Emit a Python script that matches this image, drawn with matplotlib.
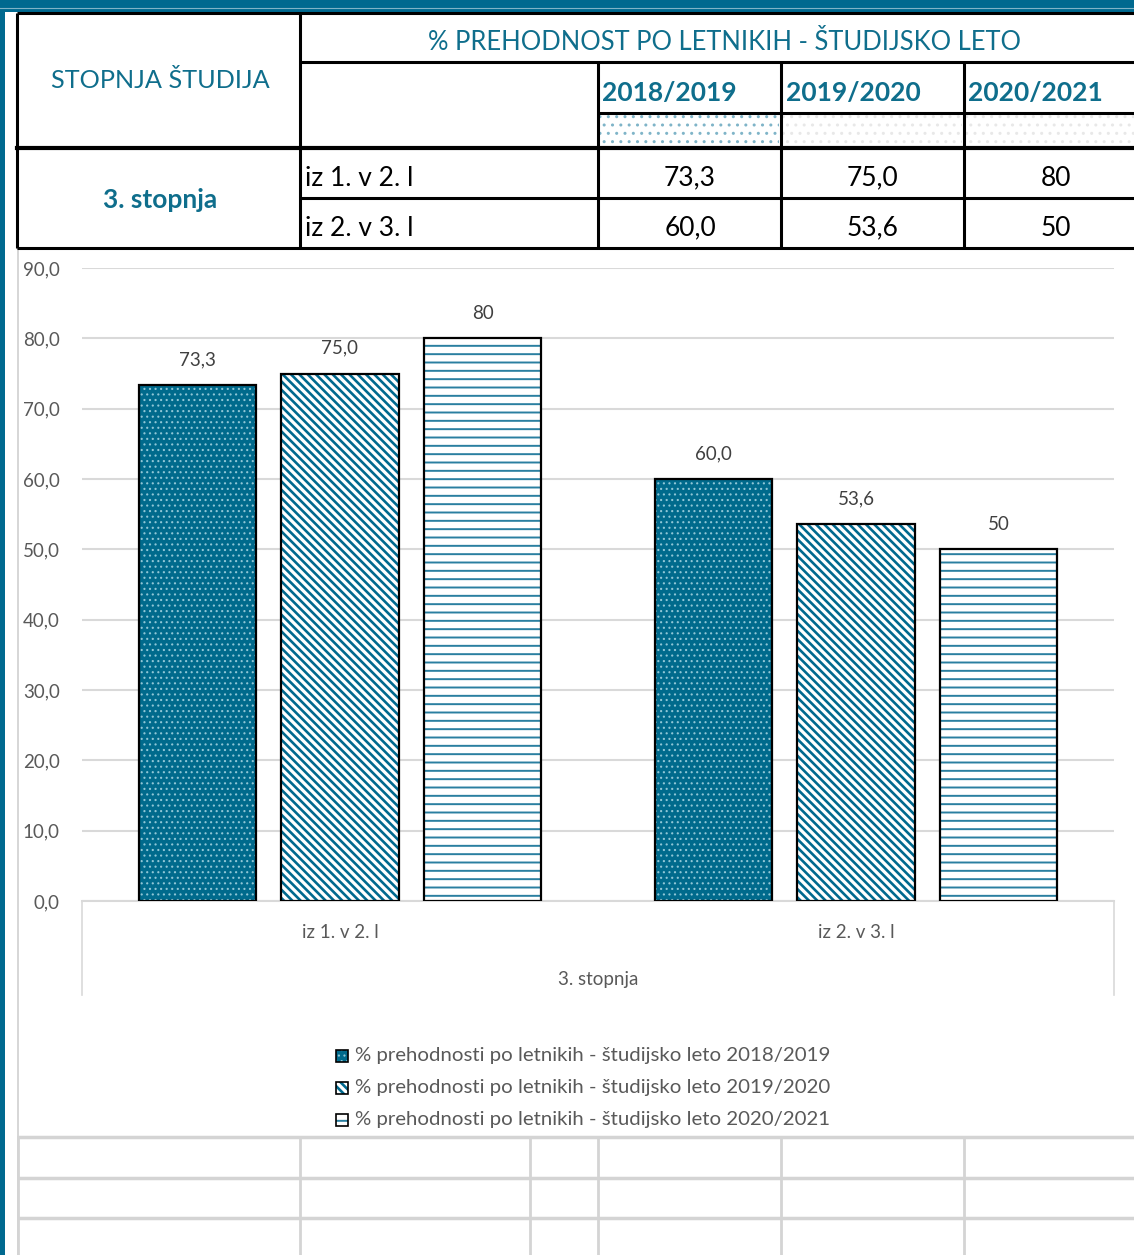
import matplotlib.pyplot as plt
from matplotlib.patches import Rectangle

plt.rcParams['font.family'] = ['Lato', 'DejaVu Sans']
plt.rcParams['hatch.linewidth'] = 1.6

# data
categories = ['iz 1. v 2. l', 'iz 2. v 3. l']
group_label = '3. stopnja'
years = ['2018/2019', '2019/2020', '2020/2021']
v2018 = [73.3, 60.0]
v2019 = [75.0, 53.6]
v2020 = [80, 50]
labels2018 = ['73,3', '60,0']
labels2019 = ['75,0', '53,6']
labels2020 = ['80', '50']
yticks = [0, 10, 20, 30, 40, 50, 60, 70, 80, 90]

TEAL = '#00698f'
TXT = '#0f6e8c'
GRAY = '#595959'

W, H = 1134, 1255
fig = plt.figure(figsize=(W / 100, H / 100), dpi=100)

# background "spreadsheet" layer in pixel coordinates
bg = fig.add_axes([0, 0, 1, 1])
bg.set_xlim(0, W)
bg.set_ylim(H, 0)
bg.axis('off')

# top band and left border
bg.add_patch(Rectangle((0, 0), W, 12, color=TEAL, lw=0))
bg.plot([0, W], [8, 8], color='#7fb3c6', lw=0.8)
bg.add_patch(Rectangle((0, 0), 5, H, color=TEAL, lw=0))
bg.plot([18, 18], [248, H], color='#d0d0d0', lw=1.2)

# table grid
blk = dict(color='black', lw=2.2, solid_capstyle='butt')
bg.plot([17, W], [13, 13], **blk)
bg.plot([300, W], [62, 62], **blk)
bg.plot([598, W], [113, 113], **blk)
bg.plot([17, W], [148, 148], color='black', lw=3)
bg.plot([300, W], [198, 198], **blk)
bg.plot([17, W], [248, 248], **blk)
bg.plot([17, 17], [13, 248], **blk)
bg.plot([300, 300], [13, 248], **blk)
for x in [598, 781, 964]:
    bg.plot([x, x], [62, 248], **blk)

# dotted cells under year headers
with plt.rc_context({'hatch.linewidth': 1.0}):
    bg.add_patch(Rectangle((600, 115), 179, 31, facecolor='white', edgecolor='#7fb4c8',
                           hatch='..', lw=0))
    for x0 in [783, 966]:
        bg.add_patch(Rectangle((x0, 115), 179, 31, facecolor='white', edgecolor='#e8e8e8',
                               hatch='..', lw=0))

bg.text(724, 42, '% PREHODNOST PO LETNIKIH - ŠTUDIJSKO LETO', color=TXT,
        fontsize=18.4, ha='center', va='center')
bg.text(160, 81, 'STOPNJA ŠTUDIJA', color=TXT, fontsize=18.2, ha='center', va='center')
for x, yr in zip([602, 786, 968], years):
    bg.text(x, 93, yr, color=TXT, fontsize=19, fontweight='bold', ha='left', va='center')
bg.text(160, 200, group_label, color=TXT, fontsize=19, fontweight='bold',
        ha='center', va='center')
for y, cat in zip([178, 228], categories):
    bg.text(305, y, cat, color='black', fontsize=19, ha='left', va='center')
for i, y in enumerate([178, 228]):
    for x, lab in zip([690, 873, 1056], [labels2018[i], labels2019[i], labels2020[i]]):
        bg.text(x, y, lab, color='black', fontsize=19, ha='center', va='center')

# white chart area
bg.add_patch(Rectangle((19, 250), W - 19, 885, color='white', lw=0, zorder=1))

# lower spreadsheet grid
lg = dict(color='#d4d4d4', lw=2.5, solid_capstyle='butt', zorder=2)
for y in [1137, 1178, 1218]:
    bg.plot([18, W], [y, y], **lg)
for x in [18, 300, 530, 598, 781, 964]:
    bg.plot([x, x], [1137, H], color='#d4d4d4', lw=2, zorder=2)

# category box under the axis
bg.plot([82, 82], [901, 995], color='#d9d9d9', lw=1.2, zorder=2)
bg.plot([1114, 1114], [901, 995], color='#d9d9d9', lw=1.2, zorder=2)
bg.plot([82, 1114], [901, 901], color='#d9d9d9', lw=1.5, zorder=2)
for x, cat in zip([340, 856], categories):
    bg.text(x, 932, cat, color=GRAY, fontsize=13.5, ha='center', va='center', zorder=3)
bg.text(598, 980, group_label, color=GRAY, fontsize=13.5, ha='center', va='center', zorder=3)

# chart
ax = fig.add_axes([82 / W, (H - 901) / H, (1114 - 82) / W, 633 / H])
ax.set_facecolor('none')
ax.set_xlim(-0.5, 1.5)
ax.set_ylim(0, 90)
for s in ax.spines.values():
    s.set_visible(False)
ax.set_xticks([])
ax.set_yticks(yticks)
ax.set_yticklabels([f'{t},0' for t in yticks], color=GRAY, fontsize=13.5)
ax.tick_params(axis='y', length=0, pad=16)
ax.grid(axis='y', color='#d9d9d9', lw=1.5)
ax.set_axisbelow(True)

pos = [0, 1]
off = 0.277
bw = 0.227
styles = [
    dict(facecolor='#006a8c', edgecolor='#8fc6d6', hatch='...'),
    dict(facecolor='white', edgecolor=TEAL, hatch='\\\\\\\\'),
    dict(facecolor='white', edgecolor='#2a7fa0', hatch='--'),
]
hatch_lw = [0.8, 1.9, 1.4]
series = [v2018, v2019, v2020]
texts = [labels2018, labels2019, labels2020]
for k, (vals, st, labs) in enumerate(zip(series, styles, texts)):
    xs = [p + (k - 1) * off for p in pos]
    with plt.rc_context({'hatch.linewidth': hatch_lw[k]}):
        ax.bar(xs, vals, bw, lw=0, zorder=2, **st)
    ax.bar(xs, vals, bw, fill=False, edgecolor='black', lw=1.6, zorder=3)
    for x, v, lab in zip(xs, vals, labs):
        ax.annotate(lab, (x, v), xytext=(0, 12), textcoords='offset points',
                    ha='center', va='bottom', color='#404040', fontsize=13.5)

# legend
leg_labels = ['% prehodnosti po letnikih - študijsko leto ' + y for y in years]
for k, (y, st, lab) in enumerate(zip([1056, 1088, 1120], styles, leg_labels)):
    with plt.rc_context({'hatch.linewidth': hatch_lw[k]}):
        bg.add_patch(Rectangle((336, y - 6), 12, 12, lw=0, zorder=3, **st))
    bg.add_patch(Rectangle((336, y - 6), 12, 12, fill=False, edgecolor='black',
                           lw=1.2, zorder=4))
    bg.text(355, y, lab, color=GRAY, fontsize=14.7, ha='left', va='center', zorder=3)

fig.savefig('out.png', dpi=100)
